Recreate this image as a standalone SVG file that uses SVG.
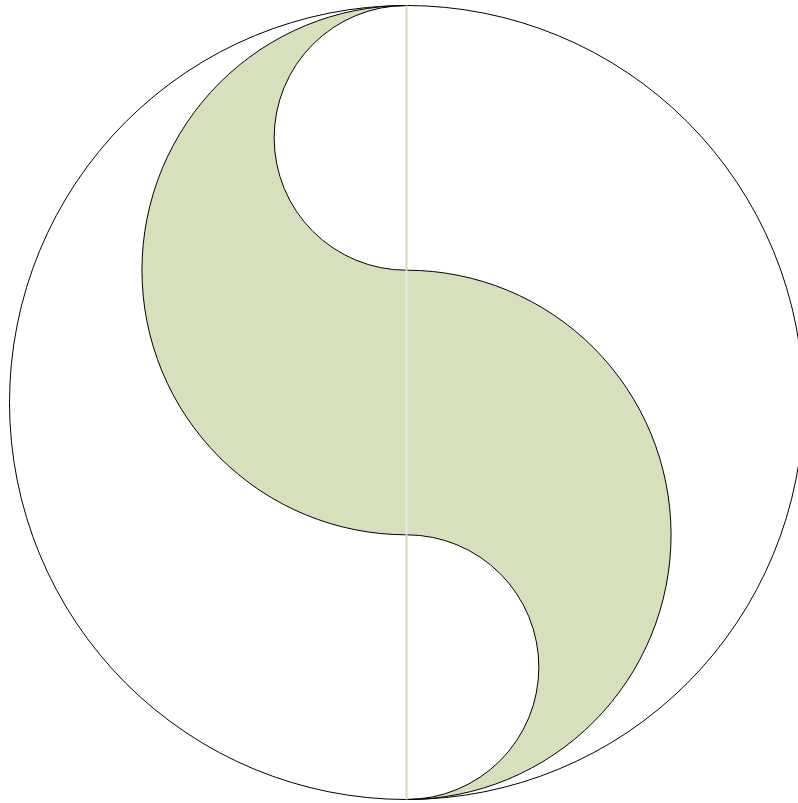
<svg xmlns="http://www.w3.org/2000/svg" width="798" height="803" viewBox="0 0 798 803">
<style>
.outline{fill:none;stroke:#000;stroke-width:1}
.shape{fill:#d7e0bd;stroke:#000;stroke-width:1}
</style>
<rect width="798" height="803" fill="#fff"/>
<g id="circle"><circle class="outline" cx="406.5" cy="402.5" r="397"/></g>
<g id="swirl"><path class="shape" d="M406.5,5.5 A100,100 0 0 0 406.5,270.2 A200,200 0 0 1 406.5,799.5 A100,100 0 0 0 406.5,534.8 A200,200 0 0 1 406.5,5.5 Z"/></g>
<g id="connectors">
<line x1="406.5" y1="5.5" x2="406.5" y2="270.2" stroke="#d5d8b5" stroke-width="2"/>
<line x1="406.5" y1="270.2" x2="406.5" y2="534.8" stroke="#e8e9e6" stroke-width="2"/>
<line x1="406.5" y1="534.8" x2="406.5" y2="799.5" stroke="#d5d8b5" stroke-width="2"/>
</g>
</svg>
